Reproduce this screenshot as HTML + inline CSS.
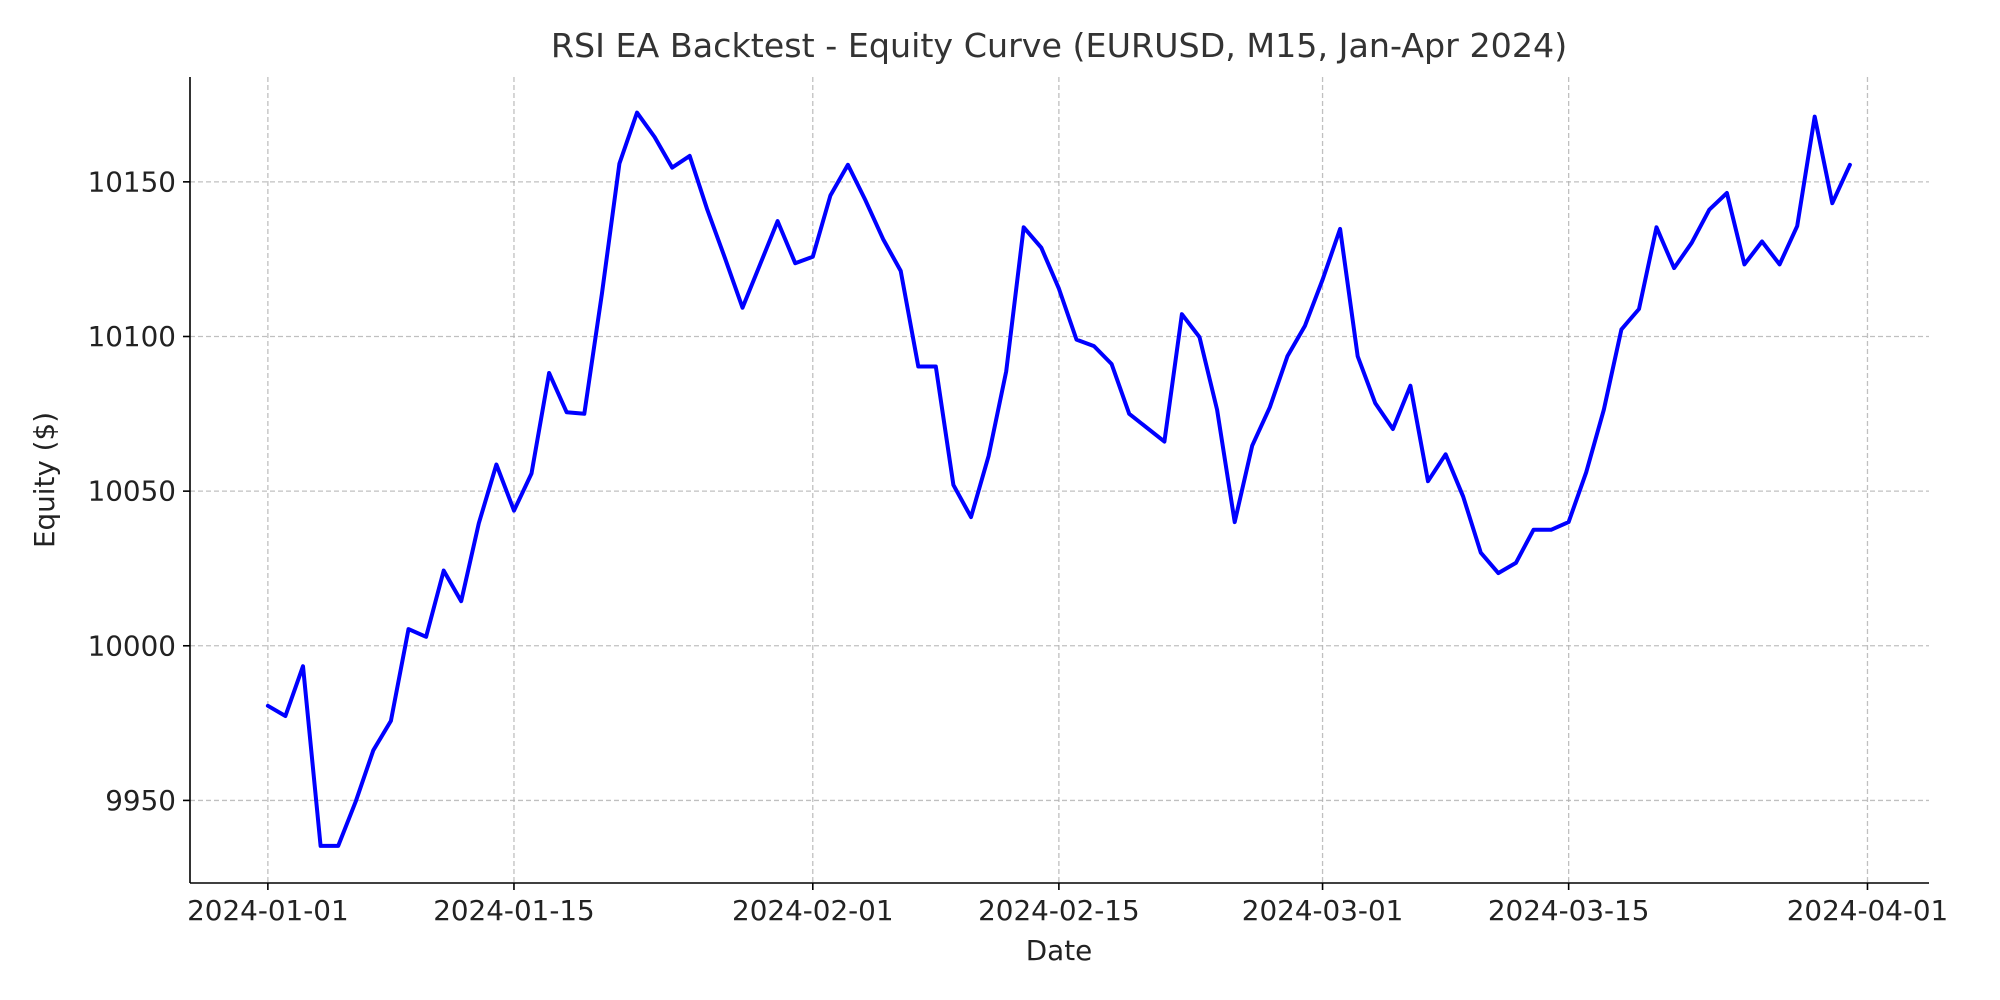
<!DOCTYPE html>
<html><head><meta charset="utf-8"><style>
html,body{margin:0;padding:0;background:#fff;}
svg{display:block;font-family:"DejaVu Sans","Liberation Sans",sans-serif;}
</style></head><body>
<svg id="chart" width="2000" height="1000" viewBox="0 0 2000 1000" xmlns="http://www.w3.org/2000/svg">
<rect width="2000" height="1000" fill="#fff"/>
<text x="1059" y="57" font-size="33.3" text-anchor="middle" fill="#333">RSI EA Backtest - Equity Curve (EURUSD, M15, Jan-Apr 2024)</text>
<g id="grid"></g>
<g id="axes"></g>
<path id="line" fill="none" stroke="#0000ff" stroke-width="4" stroke-linejoin="round" stroke-linecap="round"/>
<text x="1059" y="960" font-size="27.8" text-anchor="middle" fill="#222">Date</text>
<text transform="translate(54,480) rotate(-90)" font-size="27.8" text-anchor="middle" fill="#222">Equity ($)</text>
</svg>
<script>
const startDate = "2024-01-01";
const equity = [9980.6,9977.3,9993.4,9935.3,9935.3,9949.7,9966.2,9975.7,10005.4,10002.9,
10024.3,10014.4,10039.6,10058.6,10043.7,10055.7,10088.2,10075.5,10075,10113.8,
10155.9,10172.4,10164.5,10154.6,10158.4,10141,10125.4,10109.3,10123.3,10137.3,
10123.7,10125.8,10145.6,10155.5,10144,10131.5,10121.2,10090.3,10090.3,10052,
10041.6,10061.4,10088.7,10135.3,10128.7,10115.5,10099,10096.9,10091.1,10075,
10070.5,10066,10107.2,10099.8,10076.3,10040,10064.7,10077.1,10093.6,10103.5,
10118.4,10134.8,10093.6,10078.4,10070.1,10084.1,10053.2,10061.9,10048.2,10030.1,
10023.5,10026.8,10037.5,10037.5,10040,10056.1,10076.3,10102.3,10108.9,10135.3,
10122.1,10130.3,10141,10146.4,10123.3,10130.7,10123.3,10135.7,10171.1,10143.1,10155.5];
const xTickLabels = ["2024-01-01","2024-01-15","2024-02-01","2024-02-15","2024-03-01","2024-03-15","2024-04-01"];
const xTickDays = [0,14,31,45,60,74,91];
const yTicks = [9950,10000,10050,10100,10150];

const L=190,R=1929,T=77,B=883;
const xMin=-4.43,xMax=94.5,yMin=9923.3,yMax=10183.9;
const X=d=>L+(d-xMin)/(xMax-xMin)*(R-L);
const Y=v=>B-(v-yMin)/(yMax-yMin)*(B-T);
const NS="http://www.w3.org/2000/svg";
const grid=document.getElementById('grid'), axes=document.getElementById('axes');
function mk(tag,attrs,parent){const e=document.createElementNS(NS,tag);for(const k in attrs)e.setAttribute(k,attrs[k]);parent.appendChild(e);return e;}
yTicks.forEach(v=>{
  const y=Y(v);
  const g=mk('line',{x1:L,x2:R,y1:y,y2:y,stroke:'#b0b0b0','stroke-width':1.3,'stroke-dasharray':'5,3','stroke-opacity':0.8},grid);
  
  
  const t=mk('line',{x1:L-7,x2:L,y1:y,y2:y,stroke:'#000','stroke-width':1.6},axes);
  
  
  const lb=mk('text',{x:L-14,y:y+9.5,'font-size':27.8,'text-anchor':'end',fill:'#222'},axes);
  lb.textContent=v;
  
  
});
xTickDays.forEach((d,i)=>{
  const x=X(d);
  const g=mk('line',{x1:x,x2:x,y1:T,y2:B,stroke:'#b0b0b0','stroke-width':1.3,'stroke-dasharray':'5,3','stroke-opacity':0.8},grid);
  
  
  const t=mk('line',{x1:x,x2:x,y1:B,y2:B+7,stroke:'#000','stroke-width':1.6},axes);
  
  
  const lb=mk('text',{x:x,y:B+37,'font-size':27.8,'text-anchor':'middle',fill:'#222'},axes);
  lb.textContent=xTickLabels[i];
  
  
});
const la=mk('line',{x1:L,x2:L,y1:T,y2:B,stroke:'#000','stroke-width':1.6},axes);


const ba=mk('line',{x1:L,x2:R,y1:B,y2:B,stroke:'#000','stroke-width':1.6},axes);


document.getElementById('line').setAttribute('d',equity.map((v,i)=>(i?'L':'M')+X(i).toFixed(1)+','+Y(v).toFixed(1)).join(''));
</script>
</body></html>
